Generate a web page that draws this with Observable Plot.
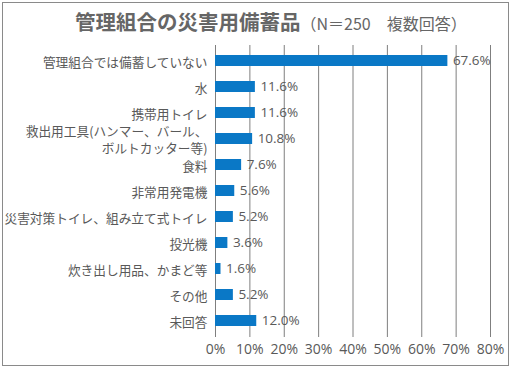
<!DOCTYPE html>
<html><head><meta charset="utf-8">
<script src="https://cdn.jsdelivr.net/npm/d3@7"></script>
<script src="https://cdn.jsdelivr.net/npm/@observablehq/plot@0.6"></script>
<style>
html,body{margin:0;padding:0;background:#fff;}
#wrap{position:relative;width:512px;height:369px;overflow:hidden;font-family:"Noto Sans CJK JP",sans-serif;}
#frame{position:absolute;left:2px;top:2px;width:505px;height:362px;border:1.5px solid #8a8a8a;box-sizing:content-box;}
#title{position:absolute;left:75px;top:6px;color:#666;white-space:nowrap;}
#title .m{font-size:20.5px;font-weight:700;}
#title .s{font-size:16px;}
#chart{position:absolute;left:0;top:40px;}
</style></head>
<body><div id="wrap"><div id="frame"></div>
<div id="title"><span class="m">管理組合の災害用備蓄品</span><span class="s">（N＝250　複数回答）</span></div>
<div id="chart"></div></div>
<script>
const categories = ["管理組合では備蓄していない","水","携帯用トイレ","救出用工具(ハンマー、バール、\nボルトカッター等)","食料","非常用発電機","災害対策トイレ、組み立て式トイレ","投光機","炊き出し用品、かまど等","その他","未回答"];
const values = [67.6,11.6,11.6,10.8,7.6,5.6,5.2,3.6,1.6,5.2,12.0];
const ticks = [0,10,20,30,40,50,60,70,80];
const data = categories.map((c,i)=>({c, v: values[i]}));
const gray = "#595959";
const numFont = '"Open Sans",sans-serif';
const plot = Plot.plot({
  width: 512, height: 329,
  marginLeft: 215, marginRight: 22, marginTop: 6, marginBottom: 34,
  style: {fontFamily: '"Noto Sans CJK JP",sans-serif', background: "transparent"},
  x: {domain: [0,80], axis: null},
  y: {domain: categories, axis: null, paddingInner: 0.58, paddingOuter: 0.29},
  marks: [
    Plot.ruleX(ticks, {x: d=>d, stroke: "#7f7f7f", strokeWidth: 1, insetTop: -1, insetBottom: -2}),
    Plot.barX(data, {x: "v", y: "c", fill: "#0a78c6"}),
    Plot.text(data, {x: "v", y: "c", text: d=>d.v.toFixed(1)+"%", textAnchor: "start", dx: 5, fill: gray, fontSize: 13.5, fontFamily: numFont}),
    Plot.text(data, {x: 0, y: "c", text: "c", textAnchor: "end", dx: -8, fill: gray, fontSize: 12.7, lineHeight: 1.36}),
    Plot.text(ticks, {x: d=>d, text: d=>d+"%", frameAnchor: "bottom", dy: 18, fill: gray, fontSize: 14, fontFamily: numFont})
  ]
});
document.getElementById("chart").appendChild(plot);
</script></body></html>
